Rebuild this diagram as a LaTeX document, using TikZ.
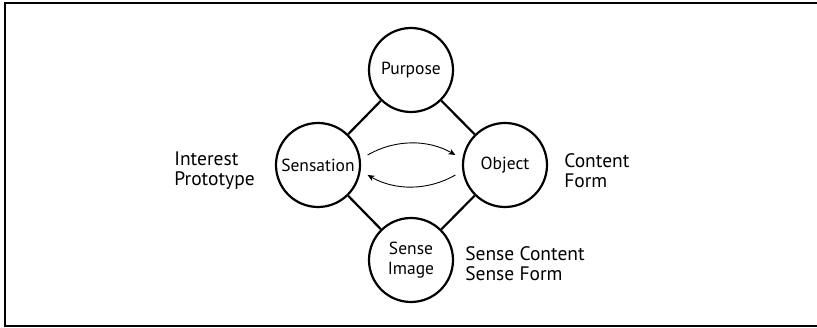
\documentclass[tikz,border=0pt]{standalone}
\usepackage{fontspec}
\setmainfont{PT Sans}
\usetikzlibrary{positioning}
\usetikzlibrary{arrows.meta}
\tikzset{
  circ/.style={draw=black, line width=2.2pt, circle, minimum size=84pt, inner sep=0pt, align=center, font=\fontsize{17.5}{20}\selectfont},
  side/.style={inner sep=0pt, align=left, font=\fontsize{19.5}{20}\selectfont},
  link/.style={line width=2.2pt},
  turn/.style={line width=0.9pt, -{Stealth[length=7pt, width=6pt]}, shorten <=8pt, shorten >=8pt}
}
\begin{document}
\begin{tikzpicture}[x=1pt, y=-1pt]
\useasboundingbox (0,0) rectangle (817,328);
\draw[line width=2pt] (817,3) -- (5,3) -- (5,326) -- (817,326);

\node[circ] (purpose) at (411,70) {Purpose};
\node[circ] (sensation) at (318,165) {Sensation};
\node[circ] (object) at (505,165) {Object};
\node[circ] (senseimage) at (411,260) {Sense\\Image};

\draw[link] (purpose) -- (sensation);
\draw[link] (purpose) -- (object);
\draw[link] (senseimage) -- (sensation);
\draw[link] (senseimage) -- (object);

\draw[turn] (sensation.8) to[bend left=30] (object.172);
\draw[turn] (object.188) to[bend left=30] (sensation.352);

\node[side, left=20pt of sensation, yshift=-6pt] (interest) {Interest\\Prototype};
\node[side, right=16pt of object, yshift=-6pt] (content) {Content\\Form};
\node[side, right=11pt of senseimage, yshift=-4pt] (sensecontent) {Sense Content\\Sense Form};
\end{tikzpicture}
\end{document}
